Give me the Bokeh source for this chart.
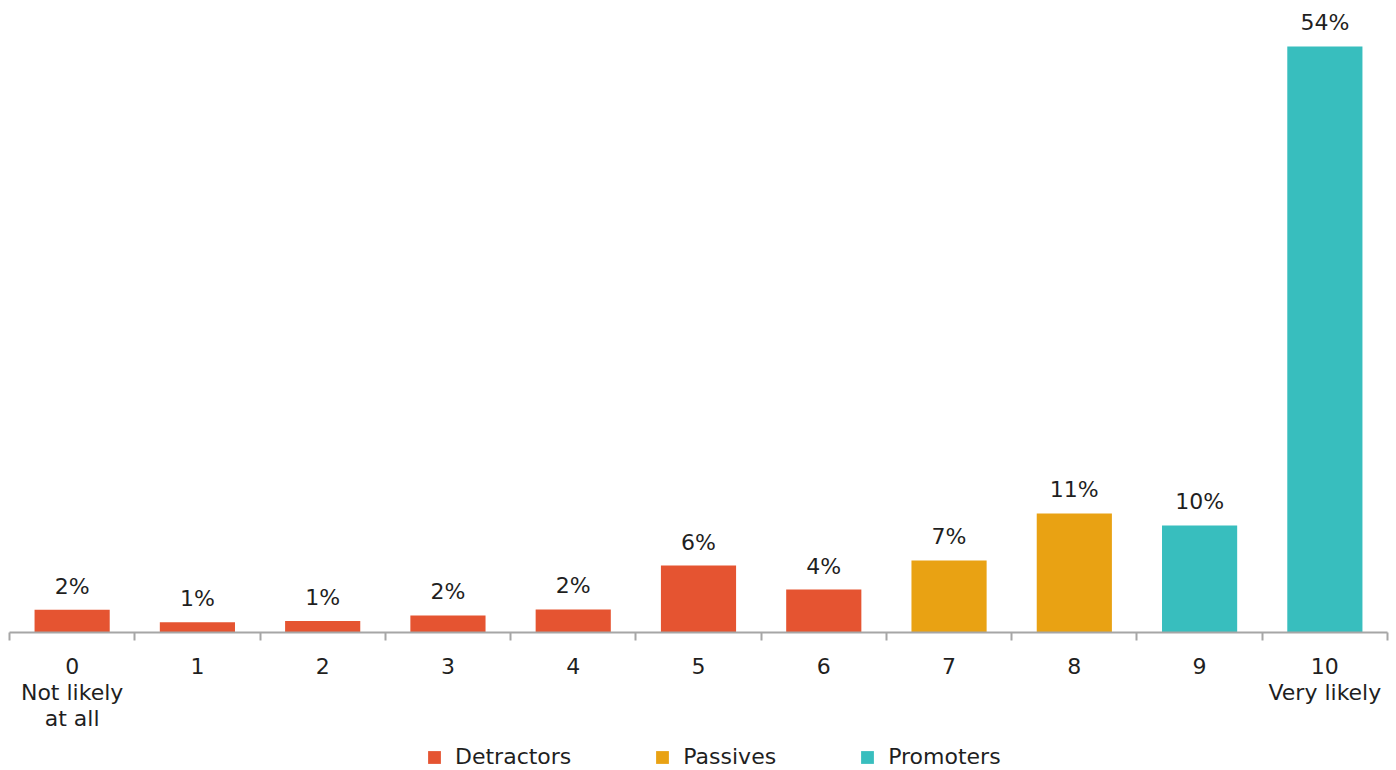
from bokeh.plotting import figure
from bokeh.layouts import column
from bokeh.models import ColumnDataSource, Range1d, FixedTicker, Legend, LegendItem
from bokeh.embed import file_html
from bokeh.resources import INLINE
from bokeh.core.properties import value

scores = [0, 1, 2, 3, 4, 5, 6, 7, 8, 9, 10]
percent = [2.1, 0.95, 1.05, 1.57, 2.12, 6.17, 3.96, 6.64, 10.97, 9.86, 54.0]
groups = ["Detractors"] * 7 + ["Passives"] * 2 + ["Promoters"] * 2
tick_labels = ["0\nNot likely\nat all", "1", "2", "3", "4", "5", "6", "7", "8", "9", "10\nVery likely"]
group_names = ["Detractors", "Passives", "Promoters"]
group_colors = {"Detractors": "#E55431", "Passives": "#E9A213", "Promoters": "#38BEBE"}

FONT = "DejaVu Sans"
TXT = "#1f1f1f"
FS = "22px"

p = figure(width=1394, height=742, output_backend="svg", toolbar_location=None,
           x_range=Range1d(-0.5, 10.5), y_range=Range1d(0, 57.4),
           y_axis_location=None, min_border_left=9, min_border_right=7,
           min_border_top=9, min_border_bottom=110)
p.grid.visible = False
p.outline_line_color = None

# legend strip below the chart (its bars lie outside its visible y range,
# only the legend itself is shown)
lf = figure(width=1394, height=27, output_backend="svg", toolbar_location=None,
            x_range=Range1d(-0.5, 10.5), y_range=Range1d(1000, 1001),
            x_axis_location=None, y_axis_location=None, min_border=0)
lf.grid.visible = False
lf.outline_line_color = None

items = []
for g in group_names:
    xs = [s for s, gg in zip(scores, groups) if gg == g]
    ys = [v for v, gg in zip(percent, groups) if gg == g]
    src = ColumnDataSource(dict(x=xs, top=ys, lab=[f"{round(v)}%" for v in ys]))
    p.vbar(x="x", top="top", width=0.6, bottom=0, source=src,
           fill_color=group_colors[g], line_color=None)
    p.text(x="x", y="top", text="lab", source=src, text_align="center",
           text_baseline="bottom", y_offset=-11, text_font=value(FONT),
           text_font_size=FS, text_color=TXT)
    r = lf.vbar(x="x", top="top", width=0.6, bottom=0, source=src,
                fill_color=group_colors[g], line_color=None)
    items.append(LegendItem(label=g, renderers=[r]))

ax = p.xaxis[0]
ax.ticker = FixedTicker(ticks=scores, minor_ticks=[s - 0.5 for s in scores] + [10.5])
ax.major_label_overrides = {s: lab for s, lab in zip(scores, tick_labels)}
ax.major_tick_out = 0
ax.major_tick_in = 0
ax.minor_tick_out = 8
ax.minor_tick_in = 0
ax.minor_tick_line_color = "#a6a6a6"
ax.minor_tick_line_width = 2
ax.axis_line_color = "#a6a6a6"
ax.axis_line_width = 2
ax.major_label_text_font = FONT
ax.major_label_text_font_size = FS
ax.major_label_text_color = TXT
ax.major_label_text_line_height = 1.04
ax.major_label_standoff = 13

legend = Legend(items=items, orientation="horizontal", location=(417, 0),
                label_text_font=FONT, label_text_font_size=FS, label_text_color=TXT,
                glyph_width=16, glyph_height=16, label_standoff=13, spacing=83,
                label_height=20, padding=0, margin=0, border_line_color=None,
                background_fill_alpha=0)
lf.add_layout(legend, "center")

layout = column(p, lf, spacing=0)
open("out.html", "w").write(file_html(layout, INLINE))
